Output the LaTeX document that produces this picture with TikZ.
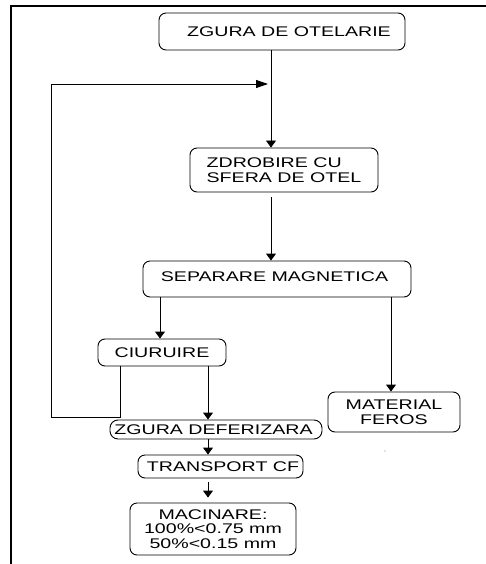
\documentclass[tikz,border=0pt]{standalone}
\usepackage{fontspec}
\setmainfont[FakeStretch=1.4]{Liberation Sans}
\usetikzlibrary{arrows.meta}
\begin{document}
\begin{tikzpicture}[x=1pt,y=-1pt,
  box/.style={draw,line width=0.9pt,rounded corners=7pt,inner sep=0pt,font=\fontsize{14}{14.5}\selectfont},
  arr/.style={line width=0.9pt,-{Triangle[width=10pt,length=7pt]}}]
\useasboundingbox (0,0) rectangle (485,564);
\draw[line width=2pt] (11,564) -- (11,6) -- (486,6);
\coordinate (x271) at (271,0);
\coordinate (x160) at (160,0);
\coordinate (x391) at (391,0);
\coordinate (x208) at (208,0);
\node[box,minimum width=246pt,minimum height=37pt] (top) at (282,31.5) {\hspace*{14pt}ZGURA DE OTELARIE};
\node[box,minimum width=188pt,minimum height=44pt,align=left] (zdrob) at (284,170) {ZDROBIRE CU\\SFERA DE OTEL};
\node[box,minimum width=268pt,minimum height=36pt] (sep) at (277,279) {\raisebox{4pt}{SEPARARE MAGNETICA}\hspace*{5pt}};
\node[box,minimum width=128pt,minimum height=27pt] (ciur) at (162,352.5) {CIURUIRE};
\node[box,minimum width=132pt,minimum height=40pt,align=center] (mat) at (394,412) {MATERIAL\\FEROS};
\node[box,rounded corners=8pt,minimum width=212pt,minimum height=19pt] (zdef) at (216,429.5) {ZGURA DEFERIZARA\hspace*{5pt}};
\node[box,minimum width=165pt,minimum height=23pt] (trans) at (220.5,466.5) {\hspace*{5pt}TRANSPORT CF};
\node[box,minimum width=166pt,minimum height=52pt,align=center] (mac) at (213,529) {MACINARE:\\100\%<0.75 mm\\50\%<0.15 mm};
\coordinate (fb1) at (120,417);
\coordinate (fb2) at (51,417);
\coordinate (fb3) at (51,84);
\coordinate (fbend) at (268,84);
\draw[arr] (top.south -| x271) -- (zdrob.north -| x271);
\draw[arr,shorten <=5pt] (zdrob.south -| x271) -- (sep.north -| x271);
\draw[arr] (sep.south -| x160) -- (ciur.north -| x160);
\draw[arr] (sep.south -| x391) -- (mat.north -| x391);
\draw[arr] (ciur.south -| x208) -- (zdef.north -| x208);
\draw[arr] (zdef.south -| x208) -- (trans.north -| x208);
\draw[arr,shorten <=4pt,shorten >=5pt] (trans.south -| x208) -- (mac.north -| x208);
\draw[line width=0.9pt,-{Triangle[width=8pt,length=12pt]}] (ciur.south -| fb1) -- (fb1) -- (fb2) -- (fb3) -- (fbend);
\fill[gray] (385,451) circle (0.7);
\end{tikzpicture}
\end{document}
